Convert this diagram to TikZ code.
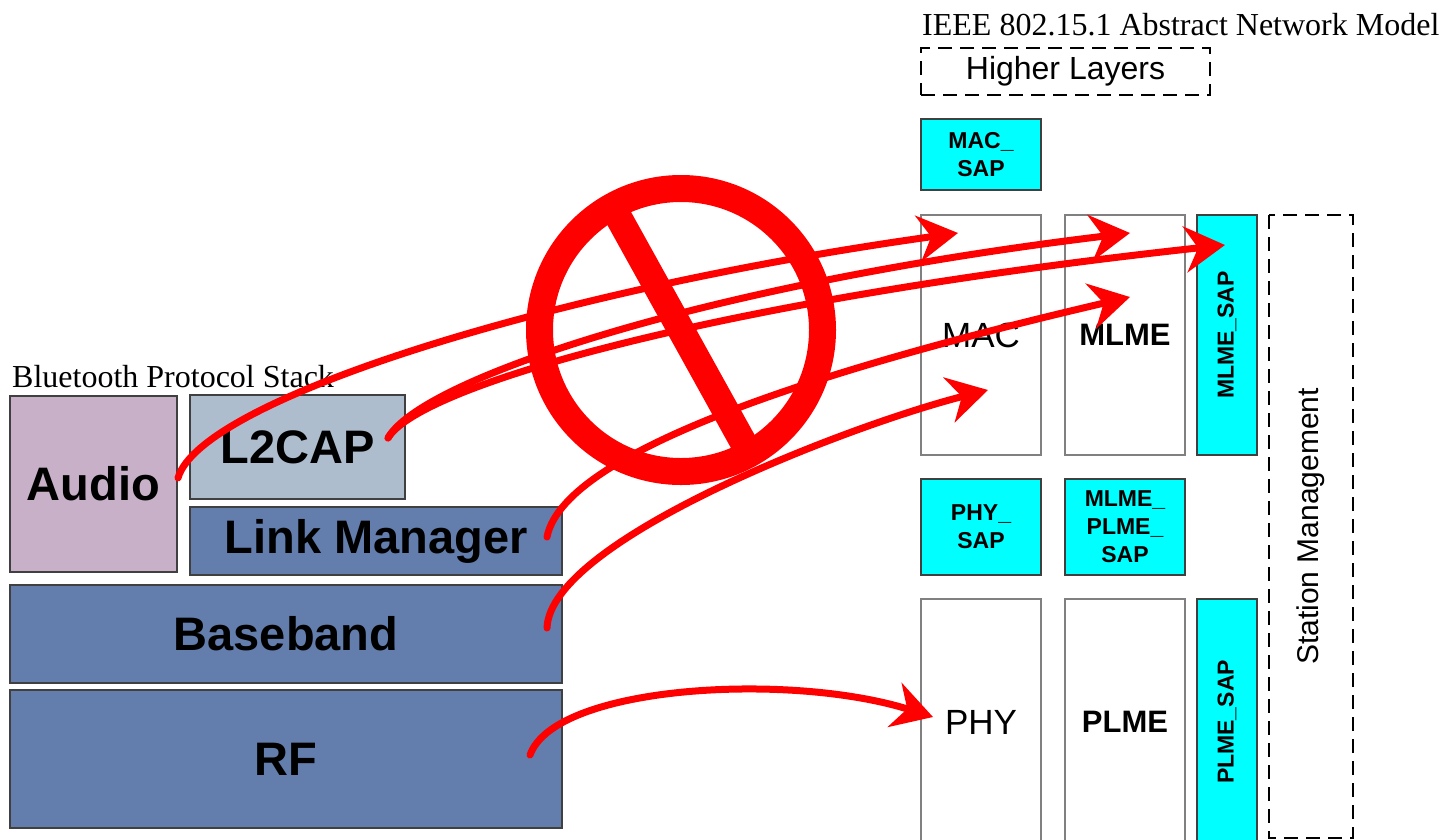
\documentclass[tikz,border=0pt]{standalone}
\usepackage{fontspec}
\setmainfont{Liberation Serif}
\setsansfont{Liberation Sans}
\usepackage{tikz}
\usetikzlibrary{arrows.meta}

\definecolor{audiofill}{RGB}{200,176,200}
\definecolor{l2capfill}{RGB}{173,189,206}
\definecolor{bandfill}{RGB}{99,125,173}
\definecolor{sapfill}{RGB}{0,255,255}

\begin{document}
\begin{tikzpicture}[x=1pt,y=-1pt,
  title/.style={inner sep=0pt, anchor=base west, font=\fontsize{32}{36}\selectfont},
  stack/.style={draw=black!75, line width=1.3pt, inner sep=0pt, font=\sffamily\bfseries\fontsize{47}{50}\selectfont},
  sap/.style={draw=black!75, fill=sapfill, line width=1.3pt, inner sep=0pt, align=center, font=\sffamily\bfseries\fontsize{23}{28}\selectfont},
  layer/.style={draw=black!50, line width=1.3pt, inner sep=0pt, font=\sffamily\fontsize{35}{40}\selectfont},
  entity/.style={layer, font=\sffamily\bfseries\fontsize{31}{36}\selectfont},
  dashedbox/.style={draw, dash pattern=on 14pt off 8pt, line width=2pt, inner sep=0pt, font=\sffamily\fontsize{32}{36}\selectfont},
  flow/.style={red, line width=7pt, line cap=round, -{Stealth[length=40pt,width=46pt,inset=13pt]}}]
\useasboundingbox (0,0) rectangle (1446,839);

\node[title] (btitle) at (12,387) {Bluetooth Protocol Stack};
\node[stack, fill=audiofill, minimum width=167pt, minimum height=176pt] (audio) at (93.5,484) {Audio};
\node[stack, fill=l2capfill, minimum width=215pt, minimum height=104pt] (l2cap) at (297.5,447) {L2CAP};
\node[stack, fill=bandfill, minimum width=372pt, minimum height=68pt] (lm) at (376,541) {Link Manager};
\node[stack, fill=bandfill, minimum width=552pt, minimum height=98pt] (bb) at (286,634) {Baseband};
\node[stack, fill=bandfill, minimum width=552pt, minimum height=138pt] (rf) at (286,759) {RF};

\node[title] (ititle) at (922,35) {IEEE 802.15.1 Abstract Network Model};
\node[dashedbox, minimum width=289pt, minimum height=47pt] (higher) at (1065.5,71.5) {Higher Layers};
\node[sap, minimum width=120pt, minimum height=71pt] (macsap) at (981,154.5) {MAC\_\\SAP};

\node[layer, minimum width=120pt, minimum height=240pt] (mac) at (981,335) {MAC};
\node[entity, minimum width=120pt, minimum height=240pt] (mlme) at (1125,335) {MLME};
\node[sap, rotate=90, minimum width=240pt, minimum height=60pt] (mlmesap) at (1227,335) {MLME\_SAP};
\node[dashedbox, rotate=90, minimum width=623pt, minimum height=84pt, font=\sffamily\fontsize{30}{34}\selectfont] (station) at (1311,526.5) {Station Management};

\node[sap, minimum width=120pt, minimum height=96pt] (physap) at (981,527) {PHY\_\\SAP};
\node[sap, minimum width=120pt, minimum height=96pt] (mpsap) at (1125,527) {MLME\_\\PLME\_\\SAP};

\node[layer, minimum width=120pt, minimum height=246pt] (phy) at (981,722) {PHY};
\node[entity, minimum width=120pt, minimum height=246pt] (plme) at (1125,722) {PLME};
\node[sap, rotate=90, minimum width=246pt, minimum height=60pt] (plmesap) at (1227,722) {PLME\_SAP};

\coordinate (audio-out) at (178,478);
\coordinate (l2cap-out) at (388,438);
\coordinate (lm-out) at (547,537);
\coordinate (bb-out) at (547,628);
\coordinate (rf-out) at (530,755);
\coordinate (mac-in) at (958,233);
\coordinate (mlme-in) at (1130,233);
\coordinate (mlmesap-in) at (1225,245);
\coordinate (mlme-in2) at (1130,297);
\coordinate (mac-in2) at (988,390);
\coordinate (phy-in) at (933,717);

\draw[flow] (audio-out) .. controls (200,400) and (550,290) .. (mac-in);
\draw[flow] (l2cap-out) .. controls (420,380) and (700,285) .. (mlme-in);
\draw[flow] (l2cap-out) .. controls (420,385) and (720,300) .. (mlmesap-in);
\draw[flow] (lm-out) .. controls (565,445) and (860,360) .. (mlme-in2);
\draw[flow] (bb-out) .. controls (550,540) and (850,425) .. (mac-in2);
\draw[flow] (rf-out) .. controls (555,685) and (790,672) .. (phy-in);

\node[circle, draw=red, line width=27pt, outer sep=0pt, minimum size=283pt] (ban) at (681,330) {};
\draw[red, line width=27pt] (ban.119) -- (ban.-61);

\end{tikzpicture}
\end{document}
